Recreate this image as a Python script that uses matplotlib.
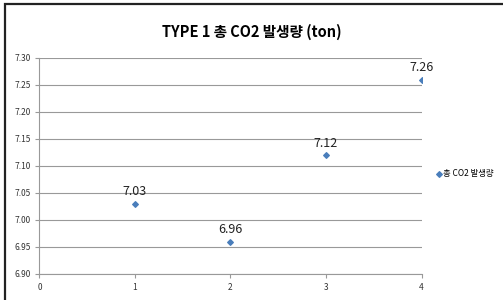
import matplotlib
matplotlib.use('Agg')
import matplotlib.pyplot as plt
from matplotlib.patches import Rectangle

plt.rcParams['font.family'] = ['Noto Sans CJK KR', 'DejaVu Sans']

x = [1, 2, 3, 4]
y = [7.03, 6.96, 7.12, 7.26]
title = 'TYPE 1 총 CO2 발생량 (ton)'
series_name = '총 CO2 발생량'
yticks = [6.90, 6.95, 7.00, 7.05, 7.10, 7.15, 7.20, 7.25, 7.30]
xticks = [0, 1, 2, 3, 4]

fig = plt.figure(figsize=(5.03, 3.0), dpi=100)
ax = fig.add_axes([0.0785, 0.087, 0.7595, 0.72])

# chart border (only top and left visible in the crop)
fig.patches.append(Rectangle((0.0105, -0.05), 1.05, 1.036, transform=fig.transFigure,
                             fill=False, edgecolor='#222222', linewidth=1.6))

ax.scatter(x, y, marker='D', s=8, color='#4a7ebb', zorder=3, label=series_name)
for xi, yi in zip(x, y):
    ax.annotate('%.2f' % yi, (xi, yi), xytext=(0, 4), textcoords='offset points',
                ha='center', va='bottom', fontsize=9, color='#222222')

ax.set_xlim(0, 4)
ax.set_ylim(6.90, 7.30)
ax.set_xticks(xticks)
ax.set_yticks(yticks)
ax.set_yticklabels(['%.2f' % v for v in yticks])
ax.tick_params(labelsize=6, colors='#333333', length=3, width=0.8)
ax.tick_params(axis='both', color='#999999')
ax.grid(axis='y', color='#999999', linewidth=0.8)
ax.set_axisbelow(True)
for s in ['top', 'right']:
    ax.spines[s].set_visible(False)
for s in ['left', 'bottom']:
    ax.spines[s].set_color('#999999')
    ax.spines[s].set_linewidth(0.8)

fig.text(0.5, 0.895, title, ha='center', va='center', fontsize=10.5, fontweight='bold')

ax.legend(loc='center left', bbox_to_anchor=(1.02, 0.465), frameon=False, fontsize=6,
          handlelength=0.6, handletextpad=0.2, markerscale=1.0)

fig.savefig('out.png', dpi=100)
